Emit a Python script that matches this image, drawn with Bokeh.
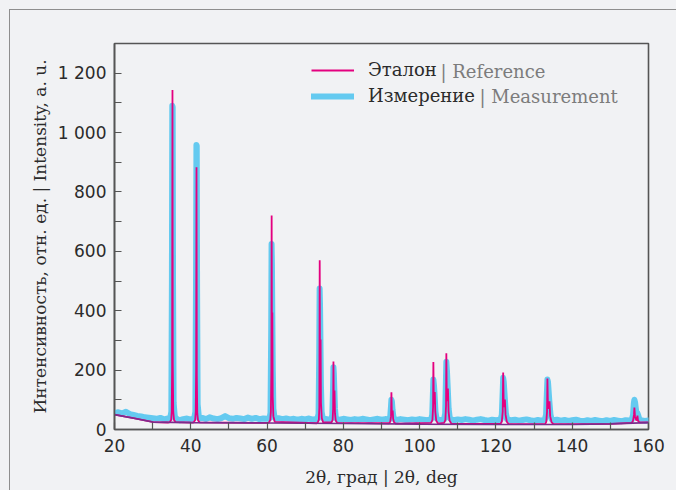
from bokeh.plotting import figure
from bokeh.models import Range1d, FixedTicker, Label, Legend, LegendItem
from bokeh.embed import file_html
from bokeh.resources import INLINE

# ---------------- data ----------------
# Measurement | Измерение (2θ, intensity)
meas_x = [20, 21, 22, 23, 24, 25, 26, 27, 28, 29, 30, 31, 32, 33, 34,
          34.6, 34.9, 35.05, 35.15, 35.25, 35.35, 35.5, 35.8, 36.1,
          37, 38, 39, 40,
          40.9, 41.2, 41.38, 41.48, 41.56, 41.65, 41.8, 42.1, 42.4,
          43, 44, 45, 46, 47, 48, 49, 50, 51, 52, 53, 54, 55, 56, 57, 58, 59, 60,
          60.6, 60.9, 61.08, 61.18, 61.27, 61.38, 61.5, 61.65, 61.95, 62.3,
          63, 64, 65, 66, 67, 68, 69, 70, 71, 72,
          73.2, 73.5, 73.68, 73.78, 73.88, 74.0, 74.12, 74.3, 74.6,
          75, 76,
          76.8, 77.1, 77.3, 77.4, 77.5, 77.65, 77.8, 78.0, 78.3,
          79, 80, 81, 82, 83, 84, 85, 86, 87, 88, 89, 90, 91,
          92.0, 92.3, 92.5, 92.6, 92.72, 92.9, 93.1, 93.4,
          94, 95, 96, 97, 98, 99, 100, 101, 102,
          103.0, 103.3, 103.5, 103.6, 103.75, 103.95, 104.15, 104.4,
          105, 106,
          106.4, 106.7, 106.9, 107.0, 107.15, 107.4, 107.6, 107.9,
          108.5, 109, 110, 111, 112, 113, 114, 115, 116, 117, 118, 119, 120,
          121.2, 121.55, 121.78, 121.9, 122.05, 122.35, 122.6, 122.9,
          124, 125, 126, 127, 128, 129, 130, 131, 132,
          132.8, 133.15, 133.38, 133.5, 133.65, 134.0, 134.3, 134.6,
          135, 136, 137, 138, 139, 140, 141, 142, 143, 144, 145, 146, 147, 148,
          149, 150, 151, 152, 153, 154, 155,
          155.6, 155.95, 156.15, 156.3, 156.5, 156.8, 157.1, 157.3, 157.6,
          158, 159, 160]
meas_y = [55, 58, 54, 60, 52, 49, 46, 44, 41, 40, 38, 36, 39, 34, 37,
          38, 60, 500, 1090, 1085, 480, 90, 45, 38,
          31, 35, 37, 33,
          38, 60, 520, 958, 955, 480, 85, 44, 37,
          39, 35, 41, 37, 35, 38, 45, 38, 36, 39, 37, 35, 40, 36, 39, 35, 37, 36,
          37, 55, 330, 625, 560, 380, 200, 70, 40, 36,
          38, 35, 37, 34, 36, 33, 36, 34, 37, 33,
          36, 52, 260, 475, 420, 290, 150, 60, 38,
          36, 34,
          35, 48, 140, 210, 190, 130, 70, 42, 35,
          33, 36, 34, 32, 35, 33, 36, 34, 31, 34, 36, 33, 35,
          34, 45, 80, 100, 95, 65, 45, 34,
          32, 35, 33, 31, 34, 32, 35, 33, 31,
          34, 50, 130, 168, 150, 110, 60, 38,
          33, 32,
          34, 55, 170, 228, 200, 130, 70, 38,
          33, 31, 34, 32, 35, 33, 30, 33, 35, 32, 30, 33, 31,
          33, 50, 130, 174, 160, 100, 55, 35,
          31, 33, 30, 32, 34, 31, 29, 32, 30,
          33, 50, 130, 168, 160, 95, 50, 34,
          31, 33, 30, 32, 29, 31, 33, 30, 28, 31, 29, 32, 30, 28,
          31, 29, 32, 30, 28, 31, 30,
          32, 50, 88, 100, 90, 58, 55, 48, 35,
          31, 29, 30]

# Reference | Эталон (2θ, intensity)
ref_x = [20, 25, 30.2, 34.0,
         34.5, 34.85, 35.0, 35.1, 35.2, 35.28, 35.4, 35.6, 36.0,
         40.5,
         40.8, 41.15, 41.3, 41.4, 41.5, 41.58, 41.7, 41.9, 42.3,
         60.2,
         60.5, 60.85, 61.0, 61.12, 61.2, 61.28, 61.38, 61.48, 61.65, 62.0,
         73.0,
         73.3, 73.58, 73.7, 73.8, 73.9, 74.03, 74.13, 74.35, 74.7,
         76.9, 77.18, 77.32, 77.4, 77.5, 77.68, 77.8, 78.0, 78.4,
         92.0,
         92.3, 92.5, 92.6, 92.72, 92.93, 93.05, 93.3, 93.7,
         103.0, 103.35, 103.52, 103.6, 103.72, 103.97, 104.1, 104.35, 104.8,
         106.4, 106.75, 106.92, 107.0, 107.12, 107.42, 107.58, 107.85, 108.3,
         121.2,
         121.55, 121.78, 121.9, 122.05, 122.35, 122.52, 122.85, 123.3,
         132.9,
         133.2, 133.4, 133.5, 133.65, 134.05, 134.22, 134.6, 135.1,
         150, 155.6,
         155.95, 156.2, 156.3, 156.45, 156.8, 157.0, 157.1, 157.25, 157.6,
         160]
ref_y = [50, 38, 25, 23.5,
         25, 32, 60, 200, 1143, 220, 60, 32, 25,
         23,
         25, 32, 60, 200, 883, 180, 55, 31, 24,
         22,
         24, 32, 60, 200, 721, 250, 394, 110, 45, 26,
         21,
         24, 33, 75, 570, 150, 303, 90, 38, 24,
         24, 32, 70, 229, 80, 131, 55, 30, 22,
         21,
         26, 45, 125, 50, 64, 36, 24, 20,
         22, 32, 75, 227, 85, 126, 60, 30, 20,
         22, 32, 80, 257, 95, 138, 60, 30, 20,
         19,
         27, 60, 192, 75, 101, 50, 26, 19,
         18,
         26, 60, 172, 70, 95, 45, 24, 18,
         19, 22,
         30, 50, 74, 45, 30, 35, 47, 30, 24,
         24]

# Background of the reference pattern
bg_x = [20, 25, 30, 40, 60, 80, 100, 120, 140, 150, 160]
bg_y = [50, 38, 25, 23, 22, 20, 18, 17, 17, 19, 23]

x_major = [20, 40, 60, 80, 100, 120, 140, 160]
x_minor = [30, 50, 70, 90, 110, 130, 150]
y_major = [0, 200, 400, 600, 800, 1000, 1200]
y_minor = [100, 300, 500, 700, 900, 1100]
y_labels = {1000: "1 000", 1200: "1 200"}

x_title = "2θ, град | 2θ, deg"
y_title = "Интенсивность, отн. ед. | Intensity, a. u."
legend_ru = ("Эталон", "Измерение")
legend_en = ("| Reference", "| Measurement")

# ---------------- styling ----------------
BG = "#f1f2f4"
DARK = "#2b2b2b"
GRAY = "#7c7c7c"
AXIS = "#555555"
FRAMELINE = "#8e8e8e"
BLUE = "#64caf0"
MAGENTA = "#e4007f"
PURPLE = "#7c2c8c"
SERIF = "DejaVu Serif"
SANS = "DejaVu Sans"

FRAME_LEFT = 114     # page px of frame left edge
FRAME_BOTTOM = 429   # page px of frame bottom edge

def sx(px):
    return px - FRAME_LEFT

def sy(py):
    return FRAME_BOTTOM - py

p = figure(width=676, height=490, output_backend="svg", toolbar_location=None,
           x_range=Range1d(20, 160), y_range=Range1d(0, 1300),
           min_border_left=114, min_border_right=28, min_border_top=43,
           min_border_bottom=61)
# page background with a thin outer rule (top/left), seen through the transparent border area
p.styles = {
    "background": (f"linear-gradient({FRAMELINE},{FRAMELINE}) 9px 9px / 1px 100% no-repeat, "
                   f"linear-gradient({FRAMELINE},{FRAMELINE}) 9px 9px / 100% 1px no-repeat, {BG}"),
}
p.background_fill_color = BG
p.border_fill_alpha = 0
p.outline_line_color = AXIS
p.outline_line_width = 1.6
p.xgrid.visible = False
p.ygrid.visible = False

meas_r = p.line(meas_x, meas_y, line_color=BLUE, line_width=6,
                line_cap="round", line_join="round")
ref_r = p.line(ref_x, ref_y, line_color=MAGENTA, line_width=1.8)
p.line(bg_x, bg_y, line_color=PURPLE, line_width=1.6)

for ax in (p.xaxis[0], p.yaxis[0]):
    ax.axis_line_color = AXIS
    ax.axis_line_width = 1.6
    ax.major_tick_line_color = AXIS
    ax.minor_tick_line_color = AXIS
    ax.major_tick_line_width = 1.2
    ax.minor_tick_line_width = 1.2
    ax.major_tick_in = 7
    ax.major_tick_out = 0
    ax.minor_tick_in = 7
    ax.minor_tick_out = 0
    ax.major_label_text_font = SANS
    ax.major_label_text_font_size = "17px"
    ax.major_label_text_color = DARK
    ax.axis_label_text_font = SERIF
    ax.axis_label_text_font_size = "17px"
    ax.axis_label_text_font_style = "normal"
    ax.axis_label_text_color = DARK

p.xaxis[0].ticker = FixedTicker(ticks=x_major, minor_ticks=x_minor)
p.yaxis[0].ticker = FixedTicker(ticks=y_major, minor_ticks=y_minor)
p.yaxis[0].major_label_overrides = y_labels
p.xaxis[0].major_label_standoff = 9
p.yaxis[0].major_label_standoff = 8
p.xaxis[0].axis_label = x_title
p.yaxis[0].axis_label = y_title
p.xaxis[0].axis_label_standoff = 12
p.yaxis[0].axis_label_standoff = 5

# legend
legend = Legend(items=[LegendItem(label=legend_ru[0], renderers=[ref_r]),
                       LegendItem(label=legend_ru[1], renderers=[meas_r])],
                location=(sx(311), sy(106)),
                glyph_width=43, glyph_height=20, label_height=20,
                label_standoff=14, spacing=5, padding=0, margin=0,
                border_line_alpha=0, background_fill_alpha=0,
                label_text_font=SERIF, label_text_font_size="18px",
                label_text_color=DARK)
p.add_layout(legend)
for text, px, py in ((legend_en[0], 440, 71), (legend_en[1], 479, 96)):
    p.add_layout(Label(x=sx(px), y=sy(py), x_units="screen", y_units="screen",
                       text=text, text_color=GRAY, text_font=SERIF,
                       text_font_size="18px", text_align="left",
                       text_baseline="middle"))

open("out.html", "w").write(file_html(p, INLINE))
